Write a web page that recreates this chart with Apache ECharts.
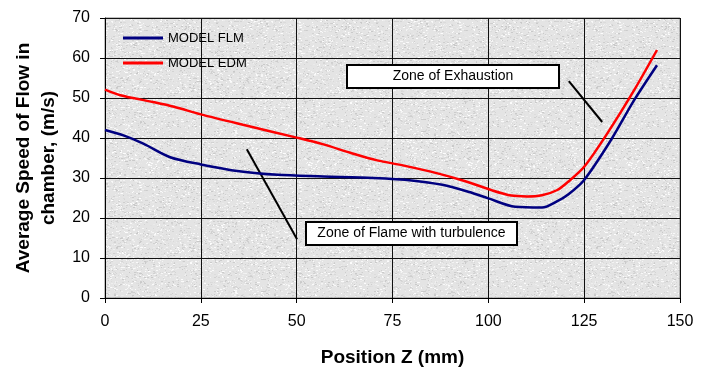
<!DOCTYPE html>
<html>
<head>
<meta charset="utf-8">
<script src="https://cdn.jsdelivr.net/npm/echarts@6/dist/echarts.min.js"></script>
<style>
  html, body { margin: 0; padding: 0; background: #fff; }
  #main { width: 710px; height: 369px; }
</style>
</head>
<body>
<div id="main"></div>
<script>
// Position Z (mm) and average speed (m/s)
var flmPos   = [0, 5, 10, 17, 25, 35, 45, 57, 70, 80, 88, 95, 100, 107, 114, 118, 121, 125, 132, 138, 144];
var flmSpeed = [42, 40.6, 38.6, 35.2, 33.4, 31.7, 30.8, 30.4, 30.0, 29.4, 28.3, 26.5, 24.9, 22.8, 22.6, 24.2, 26.0, 29.5, 39.5, 49.4, 58.2];
var edmPos   = [0, 4, 12.5, 18, 25, 36, 50, 57, 64, 71, 78, 87, 94, 101, 106, 110, 114, 118, 121, 125, 131, 138, 144];
var edmSpeed = [52.1, 50.7, 49.0, 47.8, 45.9, 43.3, 40.1, 38.4, 36.3, 34.4, 33.1, 31.1, 29.2, 26.9, 25.6, 25.4, 25.7, 27.0, 29.2, 32.8, 41.1, 51.9, 62.0];
var seriesNames = ['MODEL FLM', 'MODEL EDM'];

function pairs(xs, ys) {
  return xs.map(function (x, i) { return [x, ys[i]]; });
}

// grey granite-like fill for the plot area
function granite() {
  var c = document.createElement('canvas');
  c.width = 160; c.height = 160;
  var ctx = c.getContext('2d');
  ctx.fillStyle = '#e4e4e4';
  ctx.fillRect(0, 0, 160, 160);
  var s = 12345;
  function rnd() { s = (s * 16807) % 2147483647; return s / 2147483647; }
  for (var i = 0; i < 6000; i++) {
    var g = Math.floor(200 + rnd() * 55);
    ctx.fillStyle = 'rgb(' + g + ',' + g + ',' + g + ')';
    ctx.fillRect(Math.floor(rnd() * 160), Math.floor(rnd() * 160), 1 + Math.floor(rnd() * 2), 1);
  }
  return c;
}

var font = '"Liberation Sans", Arial, sans-serif';
var chart = echarts.init(document.getElementById('main'));

chart.setOption({
  animation: false,
  grid: {
    left: 105, right: 30, top: 18, bottom: 71,
    outerBoundsMode: 'none',
    containLabel: false,
    show: true,
    backgroundColor: { image: granite(), repeat: 'repeat' },
    borderColor: '#808080',
    borderWidth: 1
  },
  legend: {
    data: seriesNames,
    orient: 'vertical',
    left: 123, top: 31,
    padding: 0,
    itemWidth: 40, itemHeight: 3,
    itemGap: 11,
    icon: 'rect',
    textStyle: { fontFamily: font, fontSize: 13, color: '#000', lineHeight: 14 }
  },
  xAxis: {
    type: 'value',
    min: 0, max: 150, interval: 25,
    name: 'Position Z (mm)',
    nameLocation: 'middle',
    nameGap: 50,
    nameTextStyle: { fontFamily: font, fontSize: 19, fontWeight: 'bold', color: '#000' },
    axisLine: { lineStyle: { color: '#000', width: 1 } },
    axisTick: { show: true, length: 5, lineStyle: { color: '#000' } },
    axisLabel: { margin: 16, fontFamily: font, fontSize: 16, color: '#000' },
    splitLine: { show: true, lineStyle: { color: '#111', width: 1 } }
  },
  yAxis: {
    type: 'value',
    min: 0, max: 70, interval: 10,
    name: 'Average Speed of Flow in\nchamber, (m/s)',
    nameLocation: 'middle',
    nameGap: 39,
    nameTextStyle: { fontFamily: font, fontSize: 19, fontWeight: 'bold', color: '#000', lineHeight: 25 },
    axisLine: { show: true, lineStyle: { color: '#000', width: 1 } },
    axisTick: { show: true, length: 5, lineStyle: { color: '#000' } },
    axisLabel: { margin: 15, fontFamily: font, fontSize: 16, color: '#000' },
    splitLine: { show: true, lineStyle: { color: '#111', width: 1 } }
  },
  series: [
    {
      name: seriesNames[0], type: 'line', smooth: 0.3, symbol: 'none',
      data: pairs(flmPos, flmSpeed),
      itemStyle: { color: '#000080' },
      lineStyle: { color: '#000080', width: 2.5 }
    },
    {
      name: seriesNames[1], type: 'line', smooth: 0.3, symbol: 'none',
      data: pairs(edmPos, edmSpeed),
      itemStyle: { color: '#ff0000' },
      lineStyle: { color: '#ff0000', width: 2.5 }
    }
  ]
});

// annotation boxes and pointers, placed in data coordinates
function px(x, y) { return chart.convertToPixel({ gridIndex: 0 }, [x, y]); }
function box(center, w, h, text) {
  var p = px(center[0], center[1]);
  return {
    type: 'group', x: Math.round(p[0] - w / 2), y: Math.round(p[1] - h / 2),
    children: [
      { type: 'rect', shape: { x: 0, y: 0, width: w, height: h },
        style: { fill: '#fff', stroke: '#000', lineWidth: 2 } },
      { type: 'text', x: w / 2, y: h / 2,
        style: { text: text, fill: '#000', font: '14px ' + font, align: 'center', verticalAlign: 'middle' } }
    ]
  };
}
function pointer(a, b) {
  var p1 = px(a[0], a[1]), p2 = px(b[0], b[1]);
  return { type: 'line', shape: { x1: p1[0], y1: p1[1], x2: p2[0], y2: p2[1] },
           style: { stroke: '#000', lineWidth: 2 } };
}

chart.setOption({
  graphic: [
    pointer([121.0, 54.2], [129.7, 44.0]),
    pointer([37.0, 37.2], [50.1, 14.7]),
    box([90.8, 55.4], 212, 23, 'Zone of Exhaustion'),
    box([80.0, 16.1], 211, 23, 'Zone of Flame with turbulence')
  ]
});
</script>
</body>
</html>
